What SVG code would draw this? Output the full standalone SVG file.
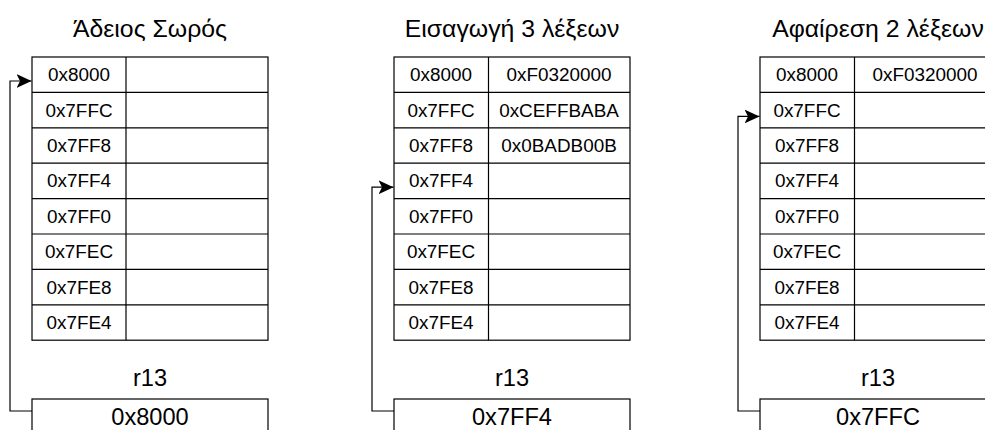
<svg xmlns="http://www.w3.org/2000/svg" width="985" height="430" viewBox="0 0 985 430">
<defs>
<marker id="arr" markerUnits="userSpaceOnUse" markerWidth="16" markerHeight="14" refX="15" refY="7" orient="auto" viewBox="0 0 16 14">
<path d="M0,0 L15,7 L0,14 L3.5,7 Z" fill="#000"/>
</marker>
</defs>
<style>
.cell{fill:#fff;stroke:#000;stroke-width:1.2}
.t{font-family:"Liberation Sans",Arial,sans-serif;fill:#000;text-anchor:middle;dominant-baseline:central}
.c{font-size:18.9px}
.h{font-size:24.8px}
.r{font-size:23.6px}
.conn{fill:none;stroke:#000;stroke-width:1.2}
</style>
<rect width="985" height="430" fill="#fff"/>

<g id="stack1">
<text class="t h" x="150" y="28">Άδειος Σωρός</text>
<rect class="cell" x="32" y="57" width="236" height="283.2"/>
<line class="cell" x1="126" y1="57" x2="126" y2="340.2"/>
<path class="conn" d="M32,92.4H268M32,127.8H268M32,163.2H268M32,198.6H268M32,234H268M32,269.4H268M32,304.8H268"/>
<text class="t c" x="79" y="74.7">0x8000</text>
<text class="t c" x="79" y="110.1">0x7FFC</text>
<text class="t c" x="79" y="145.5">0x7FF8</text>
<text class="t c" x="79" y="180.9">0x7FF4</text>
<text class="t c" x="79" y="216.3">0x7FF0</text>
<text class="t c" x="79" y="251.7">0x7FEC</text>
<text class="t c" x="79" y="287.1">0x7FE8</text>
<text class="t c" x="79" y="322.5">0x7FE4</text>
</g>
<g id="reg1">
<text class="t r" x="150" y="378">r13</text>
<rect class="cell" x="32" y="399" width="236" height="35.4"/>
<text class="t r" x="150" y="416.7">0x8000</text>
</g>

<g id="stack2">
<text class="t h" x="512" y="28">Εισαγωγή 3 λέξεων</text>
<rect class="cell" x="394" y="57" width="236" height="283.2"/>
<line class="cell" x1="488.5" y1="57" x2="488.5" y2="340.2"/>
<path class="conn" d="M394,92.4H630M394,127.8H630M394,163.2H630M394,198.6H630M394,234H630M394,269.4H630M394,304.8H630"/>
<text class="t c" x="441" y="74.7">0x8000</text>
<text class="t c" x="441" y="110.1">0x7FFC</text>
<text class="t c" x="441" y="145.5">0x7FF8</text>
<text class="t c" x="441" y="180.9">0x7FF4</text>
<text class="t c" x="441" y="216.3">0x7FF0</text>
<text class="t c" x="441" y="251.7">0x7FEC</text>
<text class="t c" x="441" y="287.1">0x7FE8</text>
<text class="t c" x="441" y="322.5">0x7FE4</text>
<text class="t c" x="559" y="74.7">0xF0320000</text>
<text class="t c" x="559" y="110.1">0xCEFFBABA</text>
<text class="t c" x="559" y="145.5">0x0BADB00B</text>
</g>
<g id="reg2">
<text class="t r" x="512" y="378">r13</text>
<rect class="cell" x="394" y="399" width="236" height="35.4"/>
<text class="t r" x="512" y="416.7">0x7FF4</text>
</g>

<g id="stack3">
<text class="t h" x="878" y="28">Αφαίρεση 2 λέξεων</text>
<rect class="cell" x="760" y="57" width="236" height="283.2"/>
<line class="cell" x1="854.5" y1="57" x2="854.5" y2="340.2"/>
<path class="conn" d="M760,92.4H996M760,127.8H996M760,163.2H996M760,198.6H996M760,234H996M760,269.4H996M760,304.8H996"/>
<text class="t c" x="807" y="74.7">0x8000</text>
<text class="t c" x="807" y="110.1">0x7FFC</text>
<text class="t c" x="807" y="145.5">0x7FF8</text>
<text class="t c" x="807" y="180.9">0x7FF4</text>
<text class="t c" x="807" y="216.3">0x7FF0</text>
<text class="t c" x="807" y="251.7">0x7FEC</text>
<text class="t c" x="807" y="287.1">0x7FE8</text>
<text class="t c" x="807" y="322.5">0x7FE4</text>
<text class="t c" x="925" y="74.7">0xF0320000</text>
</g>
<g id="reg3">
<text class="t r" x="878" y="378">r13</text>
<rect class="cell" x="760" y="399" width="236" height="35.4"/>
<text class="t r" x="878" y="416.7">0x7FFC</text>
</g>

<g id="connectors">
<path class="conn" d="M32,411H10V81H31.5" marker-end="url(#arr)"/>
<path class="conn" d="M394,411H372V187.2H393.5" marker-end="url(#arr)"/>
<path class="conn" d="M760,411H738V116.4H759.5" marker-end="url(#arr)"/>
</g>
</svg>
